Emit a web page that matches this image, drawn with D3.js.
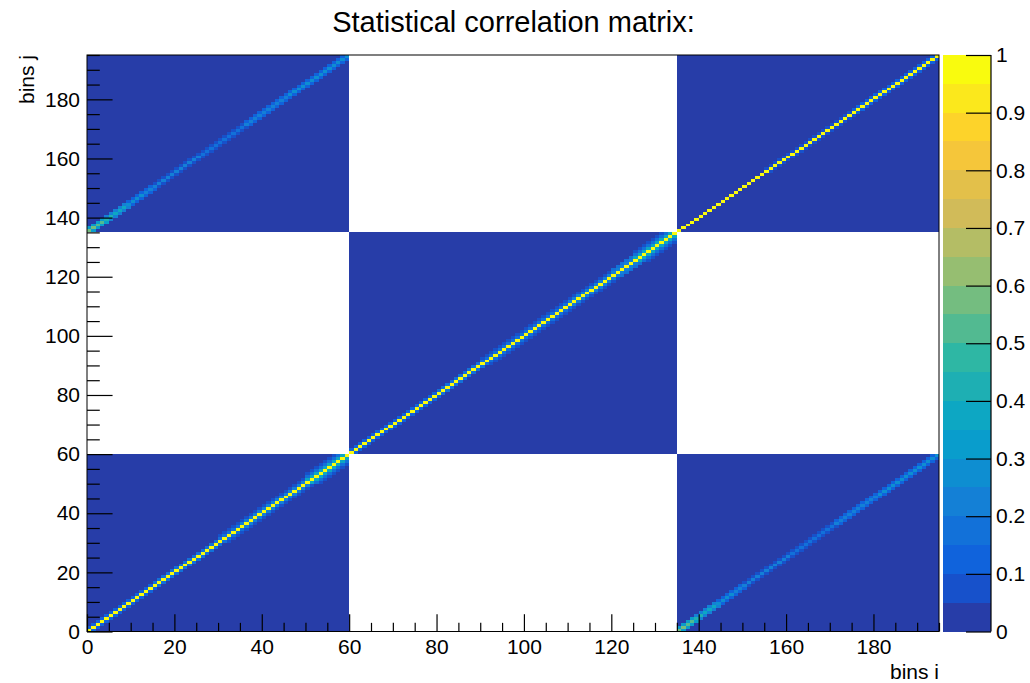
<!DOCTYPE html>
<html>
<head>
<meta charset="utf-8">
<script src="https://cdn.jsdelivr.net/npm/d3@7"></script>
<style>
  html, body { margin: 0; padding: 0; background: #fff; }
  svg { display: block; font-family: "Liberation Sans", Arial, Helvetica, sans-serif; }
</style>
</head>
<body>
<svg id="chart" width="1030" height="683"></svg>
<script>
// ---- data -------------------------------------------------------------
const chartTitle = "Statistical correlation matrix:";
const xTitle = "bins i";
const yTitle = "bins j";
const nBins = 195;
const blockEdges = [0, 60, 135, 195];
// pairs of blocks that carry non-zero correlations
const correlatedBlocks = [[0, 0], [1, 1], [2, 2], [0, 2], [2, 0]];
const blockFloor = 0.02;          // residual level inside correlated blocks
const diagonalValue = 1;
// neighbours of the diagonal: [first bin, last bin, value], by distance 1, 2, 3
const diagSide1 = [[0, 14, 0.12], [15, 34, 0.17], [35, 49, 0.22], [50, 59, 0.37],
                   [60, 79, 0.12], [80, 109, 0.17], [110, 124, 0.22], [125, 134, 0.37],
                   [135, 154, 0.03], [155, 174, 0.07], [175, 194, 0.12]];
const diagSide2 = [[0, 29, 0.03], [30, 49, 0.07], [50, 59, 0.17],
                   [60, 89, 0.03], [90, 119, 0.07], [120, 134, 0.17],
                   [135, 194, 0.02]];
const diagSide3 = [[50, 59, 0.07], [125, 134, 0.07]];
// band linking blocks 0 and 2: [first k, last k, value], k = bin inside the block
const crossCenter = [[0, 1, 0.57], [2, 3, 0.5], [4, 5, 0.42], [6, 8, 0.37], [9, 12, 0.27],
                     [13, 25, 0.2], [26, 35, 0.17], [36, 45, 0.22], [46, 59, 0.27]];
const crossSide = [[0, 3, 0.3], [4, 8, 0.2], [9, 14, 0.12], [15, 35, 0.07], [36, 59, 0.12]];
const axisTicks = [0, 20, 40, 60, 80, 100, 120, 140, 160, 180];
const axisMinorTicks = d3.range(0, 196, 5);
const zTicks = [0, 0.1, 0.2, 0.3, 0.4, 0.5, 0.6, 0.7, 0.8, 0.9, 1];
const nContours = 20;

// ---- palette (bird) ----------------------------------------------------
const birdStops = [0.0, 0.125, 0.25, 0.375, 0.5, 0.625, 0.75, 0.875, 1.0];
const birdR = [0.2082, 0.0592, 0.0780, 0.0232, 0.1802, 0.5301, 0.8186, 0.9956, 0.9764];
const birdG = [0.1664, 0.3599, 0.5041, 0.6419, 0.7178, 0.7492, 0.7328, 0.7862, 0.9832];
const birdB = [0.5293, 0.8684, 0.8385, 0.7914, 0.6425, 0.4662, 0.3499, 0.1968, 0.0539];
const rS = d3.scaleLinear().domain(birdStops).range(birdR);
const gS = d3.scaleLinear().domain(birdStops).range(birdG);
const bS = d3.scaleLinear().domain(birdStops).range(birdB);
const contourColors = d3.range(nContours).map(k => {
  const idx = Math.floor((k + 0.99) * 255 / nContours);
  const t = idx / 254;
  return d3.rgb(rS(t) * 255, gS(t) * 255, bS(t) * 255).formatHex();
});
const colorOf = v => contourColors[Math.max(0, Math.min(nContours - 1, Math.floor(v * nContours)))];

// ---- matrix -------------------------------------------------------------
const blockOf = b => blockEdges.findIndex((e, n) => b >= e && b < blockEdges[n + 1]);
const lookup = (segs, k) => { const s = segs.find(s => k >= s[0] && k <= s[1]); return s ? s[2] : 0; };
const isCorrelated = (a, b) => correlatedBlocks.some(p => p[0] === a && p[1] === b);

function cellValue(i, j) {
  const bi = blockOf(i), bj = blockOf(j);
  if (!isCorrelated(bi, bj)) return 0;
  if (bi === bj) {
    const d = Math.abs(i - j), m = Math.min(i, j);
    if (d === 0) return diagonalValue;
    const side = [diagSide1, diagSide2, diagSide3][d - 1];
    return Math.max(side ? lookup(side, m) : 0, blockFloor);
  }
  const lo = Math.min(i, j), hi = Math.max(i, j);
  const k = hi - blockEdges[2];
  const d = Math.abs(k - lo);
  let v = 0;
  if (d === 0) v = lookup(crossCenter, lo);
  else if (d === 1) v = lookup(crossSide, Math.min(k, lo));
  return Math.max(v, blockFloor);
}

const cells = [];
for (let i = 0; i < nBins; i++)
  for (let j = 0; j < nBins; j++) {
    const v = cellValue(i, j);
    if (v > 0) cells.push({ i, j, v });
  }

// ---- layout -------------------------------------------------------------
const svg = d3.select("#chart");
const frame = { left: 87, right: 939, top: 55, bottom: 631.5 };
const bar = { left: 943, right: 991 };
const x = d3.scaleLinear().domain([0, nBins]).range([frame.left, frame.right]);
const y = d3.scaleLinear().domain([0, nBins]).range([frame.bottom, frame.top]);
const z = d3.scaleLinear().domain([0, 1]).range([frame.bottom, frame.top]);
const fontSize = 21;

// cells
svg.append("g").selectAll("rect").data(cells).join("rect")
  .attr("x", d => Math.round(x(d.i)))
  .attr("y", d => Math.round(y(d.j + 1)))
  .attr("width", d => Math.round(x(d.i + 1)) - Math.round(x(d.i)))
  .attr("height", d => Math.round(y(d.j)) - Math.round(y(d.j + 1)))
  .attr("fill", d => colorOf(d.v));

// frame
svg.append("rect")
  .attr("x", frame.left).attr("y", frame.top)
  .attr("width", frame.right - frame.left).attr("height", frame.bottom - frame.top)
  .attr("fill", "none").attr("stroke", "#000").attr("stroke-width", 1);

const tickLenX = 0.03 * (frame.bottom - frame.top);
const tickLenY = 0.03 * (frame.right - frame.left);

function styleAxis(g) {
  g.select(".domain").remove();
  g.selectAll("line").attr("stroke", "#000").attr("stroke-width", 1.2);
  g.selectAll("text").attr("fill", "#000").style("font-size", fontSize + "px")
    .style("font-family", '"Liberation Sans", Arial, sans-serif');
}

// x axis
svg.append("g").attr("transform", `translate(0,${frame.bottom})`)
  .call(d3.axisBottom(x).tickValues(axisMinorTicks.filter(t => t % 20)).tickSize(-tickLenX / 2).tickFormat(""))
  .call(styleAxis);
svg.append("g").attr("transform", `translate(0,${frame.bottom})`)
  .call(d3.axisBottom(x).tickValues(axisTicks).tickSize(-tickLenX).tickPadding(8).tickFormat(d3.format("d")))
  .call(styleAxis);

// y axis
svg.append("g").attr("transform", `translate(${frame.left},0)`)
  .call(d3.axisLeft(y).tickValues(axisMinorTicks.filter(t => t % 20)).tickSize(-tickLenY / 2).tickFormat(""))
  .call(styleAxis);
svg.append("g").attr("transform", `translate(${frame.left},0)`)
  .call(d3.axisLeft(y).tickValues(axisTicks).tickSize(-tickLenY).tickPadding(7).tickFormat(d3.format("d")))
  .call(styleAxis);

// colour scale
svg.append("g").selectAll("rect").data(contourColors).join("rect")
  .attr("x", bar.left)
  .attr("y", (c, k) => Math.round(z((k + 1) / nContours)))
  .attr("width", bar.right - bar.left)
  .attr("height", (c, k) => Math.round(z(k / nContours)) - Math.round(z((k + 1) / nContours)))
  .attr("fill", c => c);
svg.append("line")
  .attr("x1", bar.right).attr("x2", bar.right)
  .attr("y1", frame.top).attr("y2", frame.bottom)
  .attr("stroke", "#000").attr("stroke-width", 1.2);
svg.append("g").attr("transform", `translate(${bar.right},0)`)
  .call(d3.axisRight(z).tickValues(zTicks).tickSize(-25).tickPadding(5).tickFormat(d3.format("")))
  .call(styleAxis);

// titles
svg.append("text")
  .attr("x", 513.5).attr("y", 32)
  .attr("text-anchor", "middle")
  .style("font-size", "29px")
  .text(chartTitle);
svg.append("text")
  .attr("x", frame.right).attr("y", 679)
  .attr("text-anchor", "end")
  .style("font-size", fontSize + "px")
  .text(xTitle);
svg.append("text")
  .attr("transform", `translate(34,${frame.top}) rotate(-90)`)
  .attr("text-anchor", "end")
  .style("font-size", fontSize + "px")
  .text(yTitle);
</script>
</body>
</html>
